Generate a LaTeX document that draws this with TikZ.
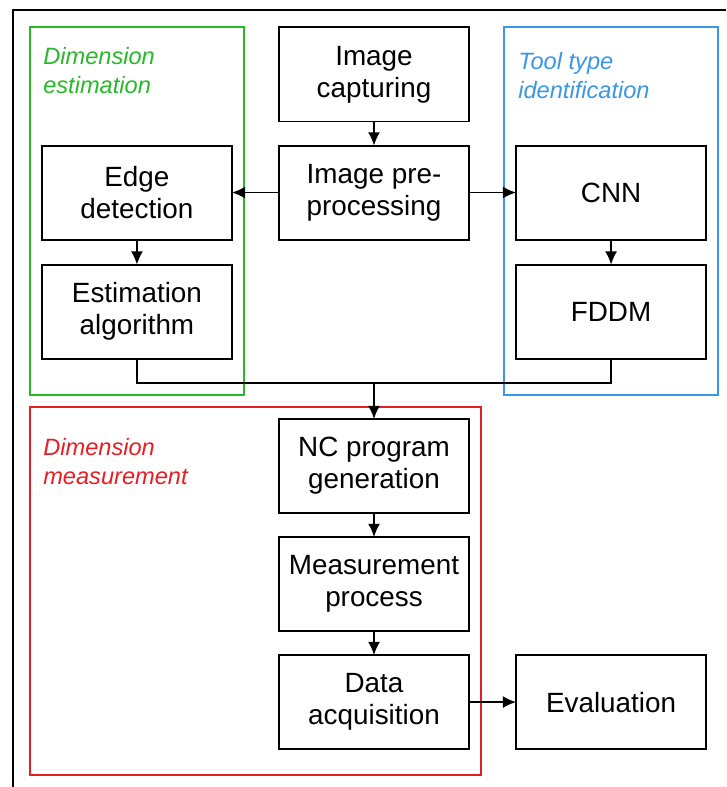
\documentclass[tikz,border=0pt]{standalone}
\usepackage{fontspec}
\setmainfont{Liberation Sans}
\usetikzlibrary{positioning,arrows.meta}
\definecolor{estgreen}{RGB}{40,185,40}
\definecolor{toolblue}{RGB}{60,150,230}
\definecolor{measred}{RGB}{230,30,35}
\tikzset{
  block/.style={draw, line width=1.4pt, minimum width=4.75cm, minimum height=2.35cm,
    outer sep=0pt, align=center, font=\fontsize{19.8}{22.7}\selectfont},
  arr/.style={-{Latex[length=3.3mm,width=3mm]}, line width=1.1pt},
  grouplabel/.style={anchor=north west, inner sep=0pt, align=left,
    font=\fontsize{16.8}{20.5}\selectfont\itshape},
  frame/.style={line width=1.4pt}
}

\begin{document}
\begin{tikzpicture}[x=0.025cm, y=-0.025cm, node distance=0.6cm and 1.175cm]
\useasboundingbox (0,0) rectangle (726,787);
\draw[line width=1.4pt] (13,787) -- (13,10) -- (726,10);
% process blocks
\node[block] (capt) at (374,74.5) {Image\\capturing};
\node[block, below=of capt] (pre) {Image pre-\\processing};
\node[block, left=of pre] (edge) {Edge\\detection};
\node[block, below=0.625cm of edge] (est) {Estimation\\algorithm};
\node[block, right=of pre] (cnn) {CNN};
\node[block, below=0.625cm of cnn] (fddm) {FDDM};
\node[block] (nc) at (374,466) {NC program\\generation};
\node[block, below=of nc] (meas) {Measurement\\process};
\node[block, below=of meas] (data) {Data\\acquisition};
\node[block, right=of data] (eval) {Evaluation};
% group frames
\draw[frame, estgreen] (30,27) rectangle (244,395);
\draw[frame, toolblue] (504,27) rectangle (718,395);
\draw[frame, measred] (30,407) rectangle (481,775);
\node[grouplabel, text=estgreen] (estlabel) at (43,47) {Dimension\\estimation};
\node[grouplabel, text=toolblue] (toollabel) at (518,52) {Tool type\\identification};
\node[grouplabel, text=measred] (measlabel) at (43,438) {Dimension\\measurement};
% connectors
\coordinate (join) at (nc.north |- 0,383);
\draw[arr] (capt) -- (pre);
\draw[arr] (pre) -- (edge);
\draw[arr] (pre) -- (cnn);
\draw[arr] (edge) -- (est);
\draw[arr] (cnn) -- (fddm);
\draw[line width=1.1pt] (est.south) |- (join) -| (fddm.south);
\draw[arr] (join) -- (nc);
\draw[arr] (nc) -- (meas);
\draw[arr] (meas) -- (data);
\draw[arr] (data) -- (eval);
\end{tikzpicture}
\end{document}
